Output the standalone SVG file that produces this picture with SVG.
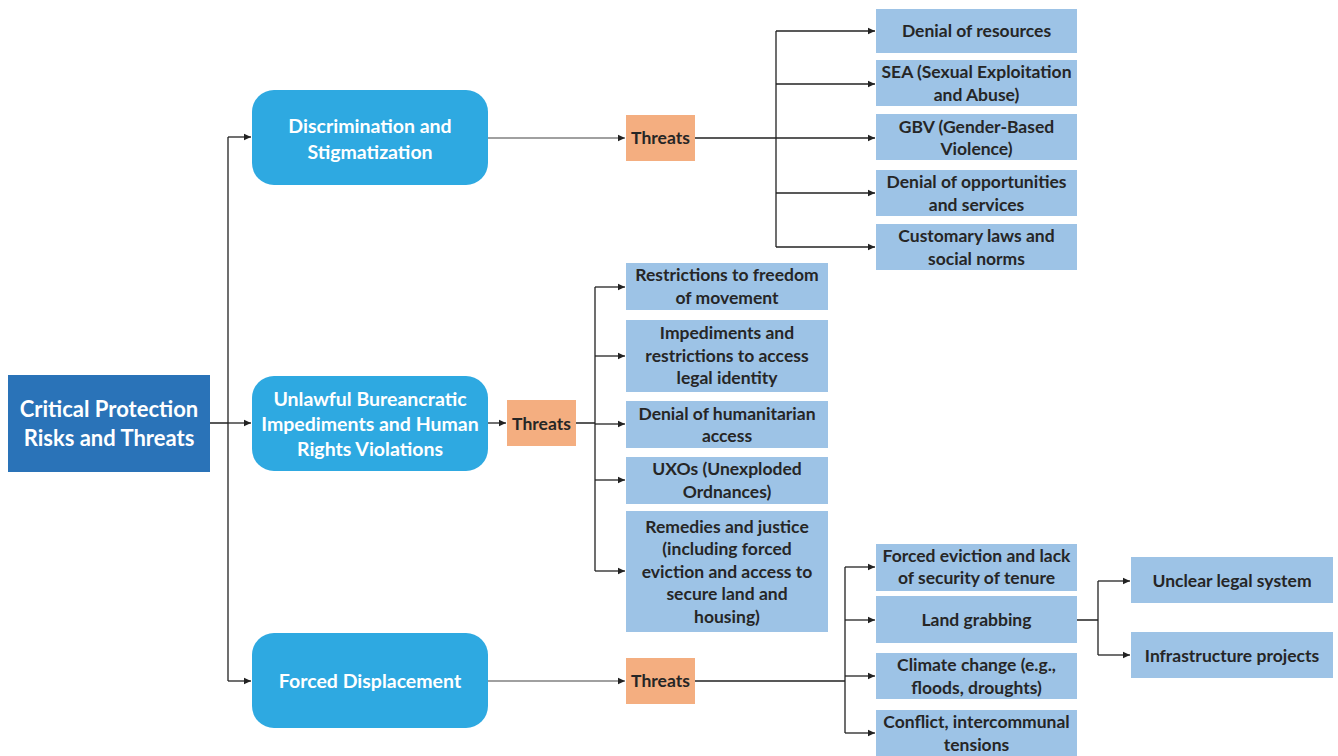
<svg xmlns="http://www.w3.org/2000/svg" width="1338" height="756" viewBox="0 0 1338 756">
<style>
text{font-family:Lato,"Liberation Sans",sans-serif;font-weight:bold;text-anchor:middle}
.root{fill:#2a73b8}
.cat{fill:#2ea9e1}
.thr{fill:#f4ae80}
.leaf{fill:#9dc3e6}
.tw{fill:#ffffff}
.td{fill:#262626;font-size:17.5px}
.ln{fill:none;stroke:#222;stroke-width:1.3}
.lg{fill:none;stroke:#808080;stroke-width:1.6}
</style>
<defs>
<marker id="ah" markerWidth="8" markerHeight="8" refX="7" refY="4" orient="auto" markerUnits="userSpaceOnUse">
<path d="M0,0.8 L7,4 L0,7.2 Z" fill="#222"/>
</marker>
</defs>
<g id="connectors">
<path class="ln" d="M210,423 H228 M228,137 V681"/>
<path class="ln" d="M228,137 H251" marker-end="url(#ah)"/>
<path class="ln" d="M228,423 H251" marker-end="url(#ah)"/>
<path class="ln" d="M228,681 H251" marker-end="url(#ah)"/>
<path class="lg" d="M488,138 H625" marker-end="url(#ah)"/>
<path class="ln" d="M488,423 H506" marker-end="url(#ah)"/>
<path class="lg" d="M488,681 H625" marker-end="url(#ah)"/>
<path class="ln" d="M695,138 H776 M776,31 V247"/>
<path class="ln" d="M776,31 H875" marker-end="url(#ah)"/>
<path class="ln" d="M776,84 H875" marker-end="url(#ah)"/>
<path class="ln" d="M776,138 H875" marker-end="url(#ah)"/>
<path class="ln" d="M776,193 H875" marker-end="url(#ah)"/>
<path class="ln" d="M776,247 H875" marker-end="url(#ah)"/>
<path class="ln" d="M576,423 H595 M595,287 V571"/>
<path class="ln" d="M595,287 H625" marker-end="url(#ah)"/>
<path class="ln" d="M595,356 H625" marker-end="url(#ah)"/>
<path class="ln" d="M595,424 H625" marker-end="url(#ah)"/>
<path class="ln" d="M595,480 H625" marker-end="url(#ah)"/>
<path class="ln" d="M595,571 H625" marker-end="url(#ah)"/>
<path class="ln" d="M695,681 H845 M845,567 V733"/>
<path class="ln" d="M845,567 H875" marker-end="url(#ah)"/>
<path class="ln" d="M845,620 H875" marker-end="url(#ah)"/>
<path class="ln" d="M845,676 H875" marker-end="url(#ah)"/>
<path class="ln" d="M845,733 H875" marker-end="url(#ah)"/>
<path class="ln" d="M1077,620 H1098 M1098,581 V655"/>
<path class="ln" d="M1098,581 H1130" marker-end="url(#ah)"/>
<path class="ln" d="M1098,655 H1130" marker-end="url(#ah)"/>
</g>
<g id="root"><rect class="root" x="8" y="375" width="202" height="97"/>
<text class="tw" font-size="22" x="109" y="417">Critical Protection</text>
<text class="tw" font-size="22" x="109" y="446">Risks and Threats</text></g>
<g id="cat1"><rect class="cat" x="252" y="90" width="236" height="95" rx="22"/>
<text class="tw" font-size="19.5" x="370" y="133">Discrimination and</text>
<text class="tw" font-size="19.5" x="370" y="159">Stigmatization</text></g>
<g id="cat2"><rect class="cat" x="252" y="376" width="236" height="95" rx="22"/>
<text class="tw" font-size="19.5" x="370" y="406">Unlawful Bureancratic</text>
<text class="tw" font-size="19.5" x="370" y="431">Impediments and Human</text>
<text class="tw" font-size="19.5" x="370" y="456">Rights Violations</text></g>
<g id="cat3"><rect class="cat" x="252" y="633" width="236" height="95" rx="22"/>
<text class="tw" font-size="19.5" x="370" y="688">Forced Displacement</text></g>
<g id="thr1"><rect class="thr" x="626" y="115" width="69" height="46"/><text class="td" x="660.5" y="144">Threats</text></g>
<g id="thr2"><rect class="thr" x="507" y="400" width="69" height="46"/><text class="td" x="541.5" y="430">Threats</text></g>
<g id="thr3"><rect class="thr" x="626" y="658" width="69" height="46"/><text class="td" x="660.5" y="687">Threats</text></g>
<g id="n1"><rect class="leaf" x="876" y="9" width="201" height="44"/><text class="td" x="976.5" y="37">Denial of resources</text></g>
<g id="n2"><rect class="leaf" x="876" y="60" width="201" height="46"/><text class="td" x="976.5" y="78">SEA (Sexual Exploitation</text><text class="td" x="976.5" y="101">and Abuse)</text></g>
<g id="n3"><rect class="leaf" x="876" y="114" width="201" height="46"/><text class="td" x="976.5" y="133">GBV (Gender-Based</text><text class="td" x="976.5" y="155">Violence)</text></g>
<g id="n4"><rect class="leaf" x="876" y="170" width="201" height="46"/><text class="td" x="976.5" y="188">Denial of opportunities</text><text class="td" x="976.5" y="211">and services</text></g>
<g id="n5"><rect class="leaf" x="876" y="224" width="201" height="46"/><text class="td" x="976.5" y="242">Customary laws and</text><text class="td" x="976.5" y="265">social norms</text></g>
<g id="n6"><rect class="leaf" x="626" y="263" width="202" height="47"/><text class="td" x="727" y="281">Restrictions to freedom</text><text class="td" x="727" y="304">of movement</text></g>
<g id="n7"><rect class="leaf" x="626" y="320" width="202" height="72"/><text class="td" x="727" y="339">Impediments and</text><text class="td" x="727" y="362">restrictions to access</text><text class="td" x="727" y="384">legal identity</text></g>
<g id="n8"><rect class="leaf" x="626" y="401" width="202" height="47"/><text class="td" x="727" y="420">Denial of humanitarian</text><text class="td" x="727" y="442">access</text></g>
<g id="n9"><rect class="leaf" x="626" y="457" width="202" height="47"/><text class="td" x="727" y="475">UXOs (Unexploded</text><text class="td" x="727" y="498">Ordnances)</text></g>
<g id="n10"><rect class="leaf" x="626" y="511" width="202" height="121"/><text class="td" x="727" y="533">Remedies and justice</text><text class="td" x="727" y="555">(including forced</text><text class="td" x="727" y="578">eviction and access to</text><text class="td" x="727" y="600">secure land and</text><text class="td" x="727" y="623">housing)</text></g>
<g id="n11"><rect class="leaf" x="876" y="544" width="201" height="47"/><text class="td" x="976.5" y="562">Forced eviction and lack</text><text class="td" x="976.5" y="584">of security of tenure</text></g>
<g id="n12"><rect class="leaf" x="876" y="596" width="201" height="47"/><text class="td" x="976.5" y="626">Land grabbing</text></g>
<g id="n13"><rect class="leaf" x="876" y="653" width="201" height="46"/><text class="td" x="976.5" y="671">Climate change (e.g.,</text><text class="td" x="976.5" y="694">floods, droughts)</text></g>
<g id="n14"><rect class="leaf" x="876" y="710" width="201" height="46"/><text class="td" x="976.5" y="728">Conflict, intercommunal</text><text class="td" x="976.5" y="751">tensions</text></g>
<g id="n15"><rect class="leaf" x="1131" y="557" width="202" height="46"/><text class="td" x="1232" y="587">Unclear legal system</text></g>
<g id="n16"><rect class="leaf" x="1131" y="632" width="202" height="46"/><text class="td" x="1232" y="662">Infrastructure projects</text></g>
</svg>
